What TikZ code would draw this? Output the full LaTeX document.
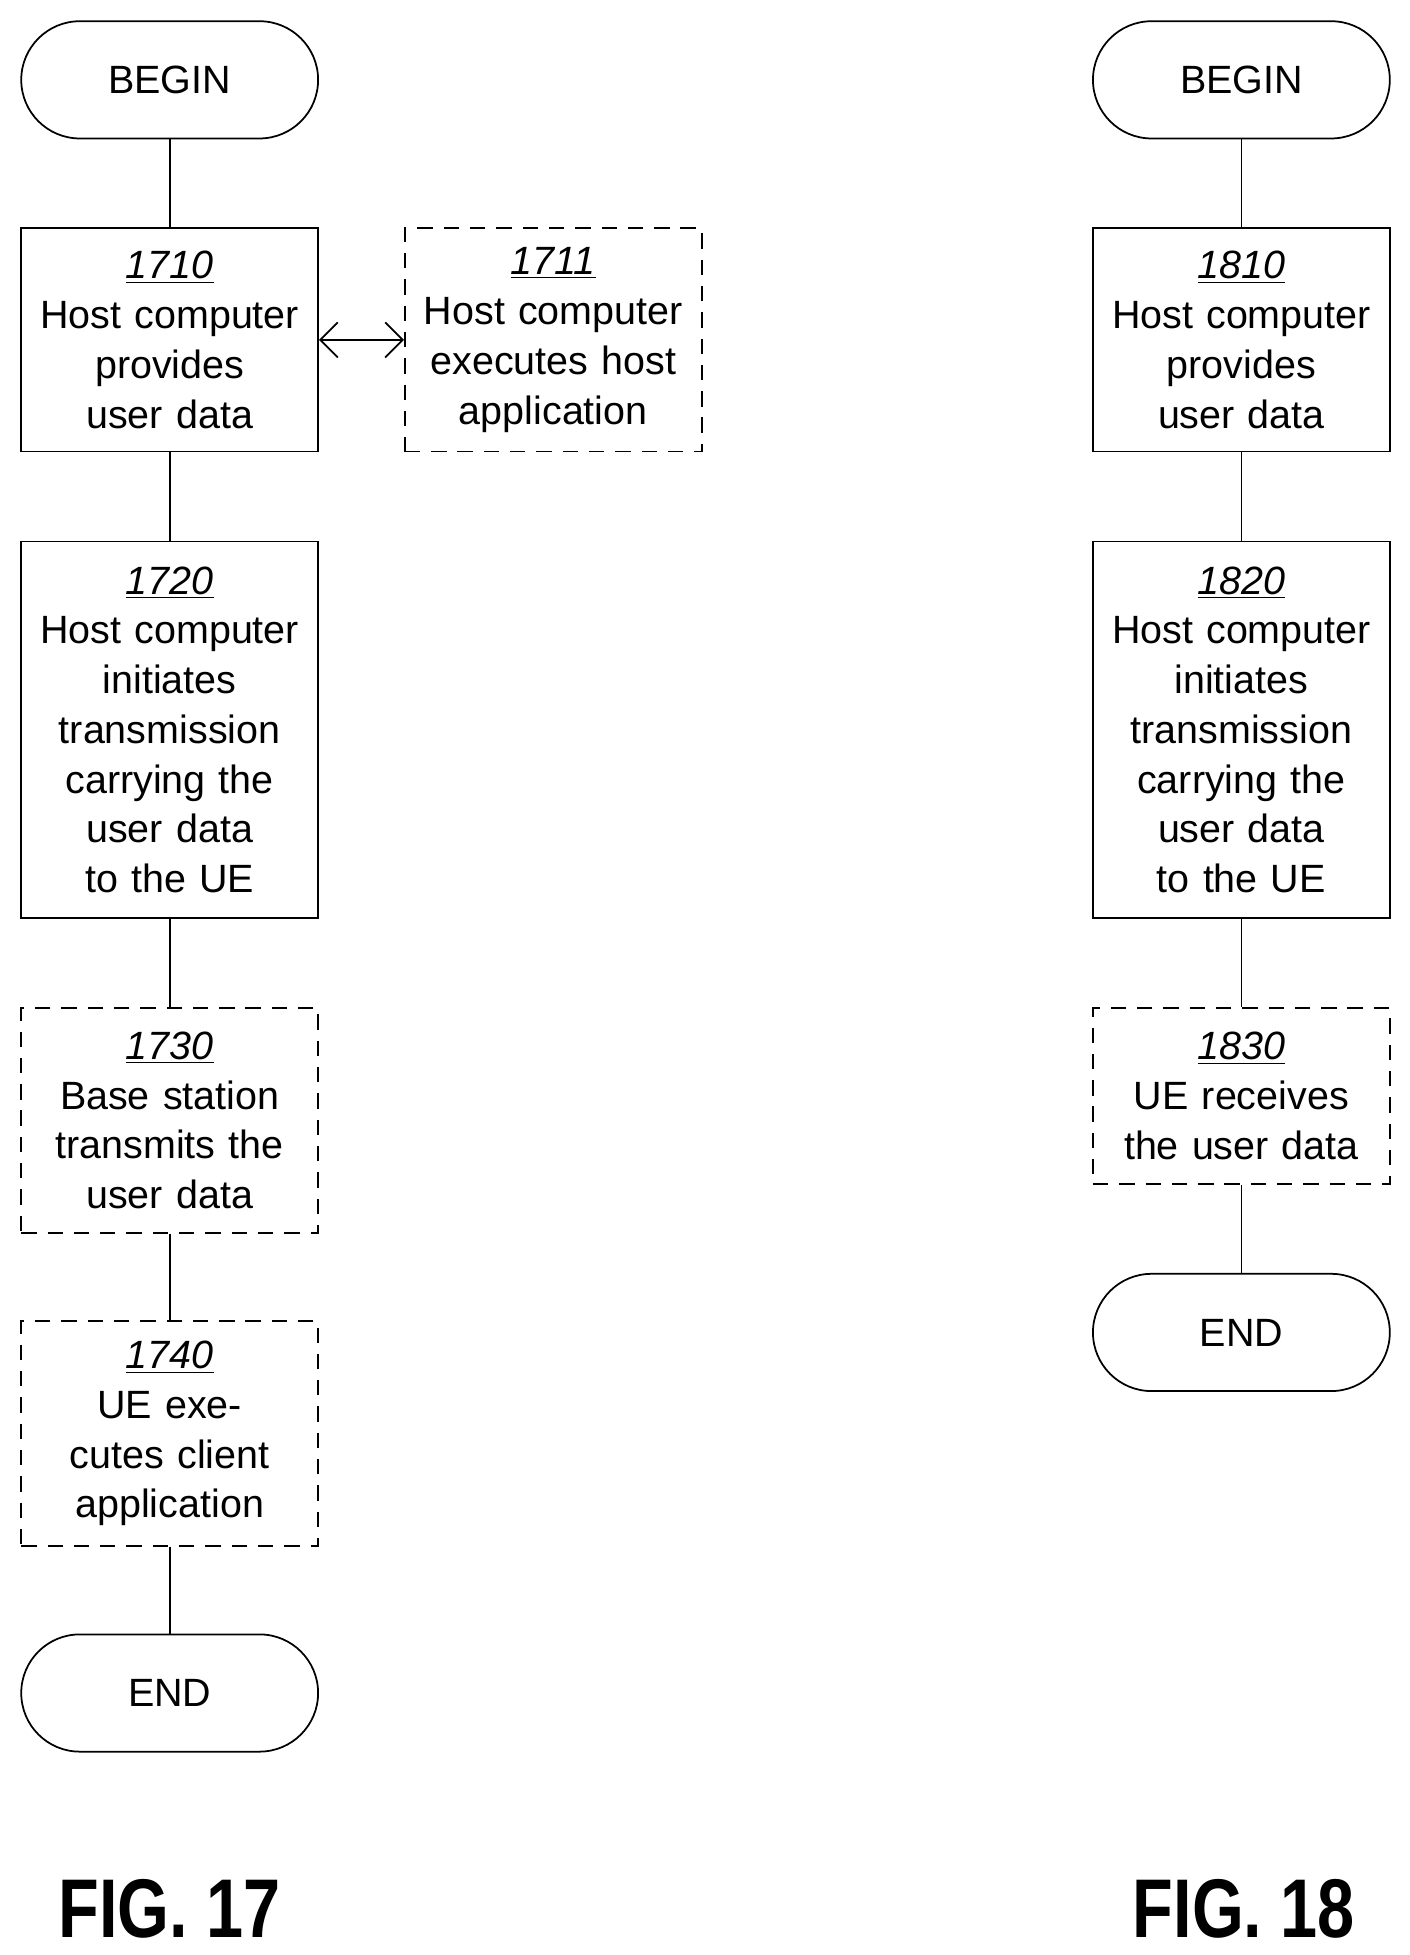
\documentclass[tikz,border=0pt]{standalone}
\usepackage{fontspec}
\setmainfont{Liberation Sans}
\usetikzlibrary{positioning, arrows.meta}

\tikzset{
  box/.style={draw, thick, minimum width=4.76cm, text width=4.6cm, align=center, inner sep=0pt},
  opt/.style={box, dashed, dash pattern=on 7pt off 5pt},
  term/.style={draw, thick, rounded corners=0.94cm, minimum width=4.76cm, minimum height=1.88cm},
  fig/.style={font=\fontsize{38}{40}\selectfont\bfseries, xscale=0.8}
}
\newcommand{\stepno}[1]{\underline{\textit{#1}}\\}

\begin{document}
\begin{tikzpicture}[x=0.02cm, y=-0.02cm, font=\fontsize{18}{22.7}\selectfont]
  \useasboundingbox (0,0) rectangle (1130,1567);

  % FIG. 17
  \node[term] (b17) at (136,64) {BEGIN};
  \node[box, minimum height=3.58cm] (s1710) at (136,272.5) {\stepno{1710}Host computer provides user data};
  \node[opt, minimum height=3.58cm] (s1711) at (443.5,272.5) {\stepno{1711}Host computer executes host application};
  \node[box, minimum height=6.04cm] (s1720) at (136,585) {\stepno{1720}Host computer initiates transmission carrying the user data to the UE};
  \node[opt, minimum height=3.6cm] (s1730) at (136,898) {\stepno{1730}Base station transmits the user data};
  \node[opt, minimum height=3.6cm] (s1740) at (136,1149) {\stepno{1740}UE executes client application};
  \node[term] (e17) at (136,1357) {END};

  \draw[thick] (b17) -- (s1710);
  \draw[thick] (s1710) -- (s1720);
  \draw[thick] (s1720) -- (s1730);
  \draw[thick] (s1730) -- (s1740);
  \draw[thick] (s1740) -- (e17);
  \draw[thick, {Straight Barb[length=8pt]}-{Straight Barb[length=8pt]}] (s1710) -- (s1711);

  % FIG. 18
  \node[term] (b18) at (995,64) {BEGIN};
  \node[box, minimum height=3.58cm] (s1810) at (995,272.5) {\stepno{1810}Host computer provides user data};
  \node[box, minimum height=6.04cm] (s1820) at (995,585) {\stepno{1820}Host computer initiates transmission carrying the user data to the UE};
  \node[opt, minimum height=2.82cm] (s1830) at (995,878.5) {\stepno{1830}UE receives the user data};
  \node[term] (e18) at (995,1068) {END};

  \draw[thick] (b18) -- (s1810);
  \draw[thick] (s1810) -- (s1820);
  \draw[thick] (s1820) -- (s1830);
  \draw[thick] (s1830) -- (e18);

  \node[fig] (f17) at (136,1530) {FIG. 17};
  \node[fig] (f18) at (997,1530) {FIG. 18};
\end{tikzpicture}
\end{document}
